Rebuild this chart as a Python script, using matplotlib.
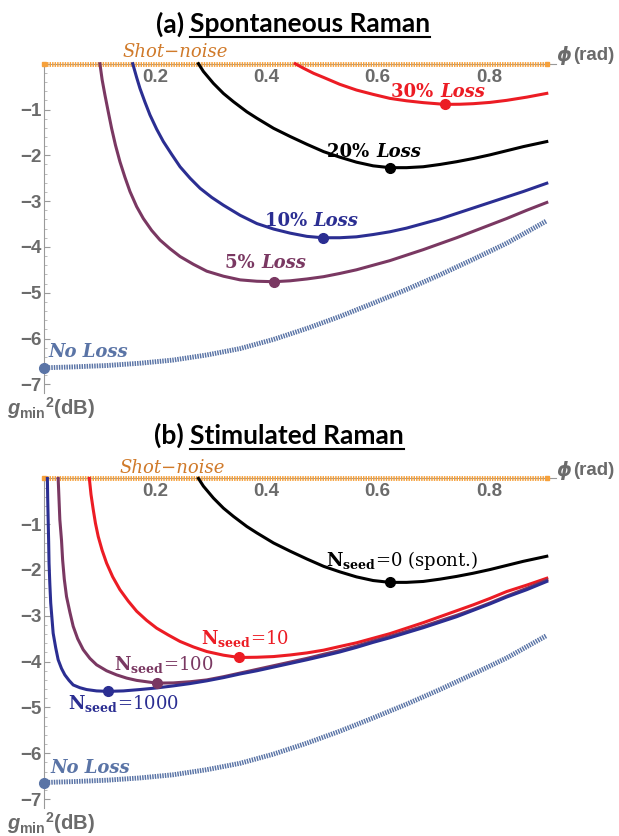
import matplotlib
matplotlib.use("Agg")
import matplotlib.pyplot as plt

plt.rcParams["mathtext.fontset"] = "custom"
plt.rcParams["mathtext.it"] = "Liberation Sans:italic:bold"
plt.rcParams["mathtext.rm"] = "Liberation Sans:bold"
plt.rcParams["mathtext.bf"] = "Liberation Sans:bold"

# ---- data (phi in rad, squeezing in dB) ----
phi_30 = [0.452, 0.467, 0.485, 0.503, 0.532, 0.562, 0.592, 0.622, 0.652, 0.682, 0.721,
          0.748, 0.772, 0.802, 0.832, 0.868, 0.904]
g_30 = [0.0, -0.10, -0.21, -0.30, -0.45, -0.575, -0.67, -0.757, -0.81, -0.85, -0.888,
        -0.885, -0.873, -0.845, -0.80, -0.73, -0.648]

phi_20 = [0.278, 0.287, 0.305, 0.323, 0.341, 0.365, 0.383, 0.413, 0.443, 0.473, 0.503, 0.532,
          0.562, 0.592, 0.622, 0.652, 0.682, 0.712, 0.742, 0.772, 0.802, 0.832, 0.862, 0.904]
g_20 = [0.0, -0.17, -0.43, -0.65, -0.83, -1.05, -1.19, -1.41, -1.59, -1.76, -1.92, -2.04,
        -2.15, -2.23, -2.27, -2.27, -2.25, -2.20, -2.14, -2.07, -1.99, -1.90, -1.81, -1.70]

phi_10 = [0.160, 0.167, 0.173, 0.182, 0.191, 0.203, 0.215, 0.230, 0.245, 0.263, 0.281, 0.302,
          0.323, 0.353, 0.383, 0.413, 0.443, 0.473, 0.501, 0.532, 0.562, 0.592, 0.622, 0.652,
          0.682, 0.712, 0.742, 0.772, 0.802, 0.832, 0.862, 0.904]
g_10 = [0.0, -0.30, -0.54, -0.84, -1.12, -1.43, -1.70, -1.98, -2.25, -2.50, -2.72, -2.92,
        -3.09, -3.31, -3.49, -3.61, -3.70, -3.77, -3.80, -3.80, -3.78, -3.73, -3.67, -3.59,
        -3.49, -3.39, -3.27, -3.15, -3.03, -2.91, -2.79, -2.61]

phi_5 = [0.101, 0.105, 0.110, 0.116, 0.122, 0.129, 0.137, 0.146, 0.155, 0.167, 0.179, 0.194,
         0.209, 0.227, 0.245, 0.269, 0.293, 0.323, 0.353, 0.383, 0.414, 0.443, 0.473, 0.503,
         0.532, 0.562, 0.592, 0.622, 0.652, 0.682, 0.712, 0.742, 0.772, 0.802, 0.832, 0.868,
         0.904]
g_5 = [0.0, -0.35, -0.68, -1.05, -1.41, -1.78, -2.14, -2.48, -2.79, -3.12, -3.38, -3.64,
       -3.85, -4.04, -4.21, -4.38, -4.53, -4.64, -4.72, -4.75, -4.76, -4.74, -4.70, -4.65,
       -4.58, -4.50, -4.40, -4.30, -4.18, -4.06, -3.93, -3.80, -3.66, -3.52, -3.38, -3.20,
       -3.03]

phi_noloss = [0.0, 0.053, 0.113, 0.173, 0.233, 0.293, 0.353, 0.413, 0.473, 0.532, 0.592,
              0.652, 0.712, 0.772, 0.832, 0.904]
g_noloss = [-6.64, -6.62, -6.59, -6.54, -6.47, -6.36, -6.22, -6.02, -5.78, -5.52, -5.23,
            -4.93, -4.61, -4.27, -3.92, -3.43]

phi_n10 = [0.082, 0.085, 0.089, 0.093, 0.098, 0.105, 0.113, 0.124, 0.137, 0.152, 0.167, 0.185,
           0.203, 0.224, 0.245, 0.269, 0.293, 0.323, 0.351, 0.383, 0.413, 0.443, 0.473, 0.503,
           0.532, 0.562, 0.592, 0.622, 0.652, 0.682, 0.712, 0.742, 0.772, 0.802, 0.832, 0.868,
           0.904]
g_n10 = [0.0, -0.35, -0.68, -0.98, -1.27, -1.57, -1.85, -2.15, -2.43, -2.68, -2.90, -3.10,
         -3.27, -3.42, -3.56, -3.68, -3.78, -3.86, -3.91, -3.905, -3.89, -3.855, -3.81, -3.75,
         -3.67, -3.59, -3.49, -3.39, -3.27, -3.15, -3.02, -2.89, -2.76, -2.62, -2.47, -2.33,
         -2.18]

phi_n100 = [0.026, 0.0275, 0.029, 0.032, 0.034, 0.037, 0.041, 0.047, 0.053, 0.061, 0.071,
            0.083, 0.095, 0.113, 0.131, 0.149, 0.167, 0.203, 0.233, 0.263, 0.293, 0.323, 0.353,
            0.383, 0.413, 0.443, 0.473, 0.503, 0.532, 0.562, 0.592, 0.622, 0.652, 0.682, 0.712,
            0.742, 0.772, 0.802, 0.832, 0.868, 0.904]
g_n100 = [0.0, -0.45, -0.90, -1.35, -1.78, -2.20, -2.58, -2.92, -3.23, -3.50, -3.74,
          -3.93, -4.07, -4.20, -4.29, -4.36, -4.41, -4.47, -4.465, -4.44, -4.40, -4.33, -4.25,
          -4.17, -4.09, -4.01, -3.93, -3.84, -3.76, -3.66, -3.55, -3.45, -3.34, -3.23, -3.11,
          -2.99, -2.86, -2.72, -2.57, -2.40, -2.22]

phi_n1000 = [0.0066, 0.0072, 0.008, 0.0089, 0.0096, 0.011, 0.0126, 0.015, 0.017, 0.0216, 0.026,
             0.032, 0.038, 0.0455, 0.053, 0.065, 0.077, 0.095, 0.115, 0.143, 0.173, 0.203,
             0.233, 0.263, 0.293, 0.323, 0.353, 0.383, 0.413, 0.443, 0.473, 0.503, 0.532,
             0.562, 0.592, 0.622, 0.652, 0.682, 0.712, 0.742, 0.772, 0.802, 0.832, 0.868, 0.904]
g_n1000 = [0.0, -0.45, -0.90, -1.38, -1.85, -2.30, -2.72, -3.08, -3.38, -3.70, -3.96,
           -4.15, -4.29, -4.41, -4.51, -4.57, -4.61, -4.64, -4.65, -4.64, -4.61, -4.575,
           -4.53, -4.48, -4.42, -4.35, -4.27, -4.20, -4.12, -4.04, -3.96, -3.875, -3.79,
           -3.69, -3.58, -3.48, -3.37, -3.26, -3.14, -3.02, -2.88, -2.74, -2.59, -2.43, -2.25]

# minima (dots)
min_top = {"30": (0.721, -0.888), "20": (0.622, -2.27), "10": (0.501, -3.80),
           "5": (0.414, -4.76), "no": (0.0, -6.64)}
min_bot = {"0": (0.622, -2.27), "10": (0.351, -3.91), "100": (0.203, -4.47),
           "1000": (0.115, -4.65), "no": (0.0, -6.64)}

x_ticks = [0.2, 0.4, 0.6, 0.8]
y_ticks = [-1, -2, -3, -4, -5, -6, -7]

RED = "#ec1c24"
BLACK = "#000000"
BLUE = "#2b2e92"
PURPLE = "#7a3862"
SLATE = "#5a74a6"
ORANGE = "#f6a13c"
ORANGE_TXT = "#d07a2a"
GRAY = "#6b6b6b"

W, H = 619, 836
fig = plt.figure(figsize=(W / 100, H / 100), dpi=100)

X0PX, XSCALE = 43.7, 556.5
YSCALE = 45.8
XLIM = (-0.02, 1.0)
YLIM = (-7.3, 0.6)


def make_axes(y0px):
    left = (X0PX + XLIM[0] * XSCALE) / W
    width = (XLIM[1] - XLIM[0]) * XSCALE / W
    top = y0px - YLIM[1] * YSCALE
    bottom = y0px - YLIM[0] * YSCALE
    ax = fig.add_axes([left, 1 - bottom / H, width, (bottom - top) / H])
    ax.set_xlim(*XLIM)
    ax.set_ylim(*YLIM)
    ax.patch.set_alpha(0)
    for s in ("top", "right"):
        ax.spines[s].set_visible(False)
    ax.spines["left"].set_position(("data", 0))
    ax.spines["left"].set_bounds(-7.2, 0)
    ax.spines["bottom"].set_position(("data", 0))
    ax.spines["bottom"].set_bounds(0, 0.92)
    for s in ("left", "bottom"):
        ax.spines[s].set_color("#9a9a9a")
        ax.spines[s].set_linewidth(0.8)
    ax.set_xticks(x_ticks)
    ax.set_xticklabels([f"{v:.1f}" for v in x_ticks])
    ax.set_yticks(y_ticks)
    ax.set_yticklabels([f"\u2212{abs(v)}" for v in y_ticks])
    ax.set_yticks([-0.2 * i for i in range(1, 36) if i % 5], minor=True)
    ax.tick_params(axis="x", length=0, pad=3.5)
    ax.tick_params(axis="y", which="major", direction="in", length=4, color="#9a9a9a", pad=1.5)
    ax.tick_params(axis="y", which="minor", direction="in", length=2, color="#b0b0b0")
    for lab in ax.get_xticklabels() + ax.get_yticklabels():
        lab.set_fontfamily("Liberation Sans")
        lab.set_fontweight("bold")
        lab.set_fontsize(13.5)
        lab.set_color(GRAY)

    # shot-noise level
    ax.plot([0, 0.905], [0, 0], color=ORANGE, lw=3.5, ls=(0, (0.3, 0.22)),
            solid_capstyle="butt", zorder=3)
    ax.plot([0, 0.905], [0, 0], ls="none", marker="s", ms=3.5, color=ORANGE, zorder=3)

    # no loss
    ax.plot(phi_noloss, g_noloss, color=SLATE, lw=3.5, ls=(0, (0.3, 0.22)), zorder=3)

    ax.text(0.948, 0.17, "\u03d5", fontsize=13.5, fontweight="bold", style="italic",
            family="DejaVu Sans", color=GRAY, va="center", ha="right")
    ax.text(0.952, 0.17, "(rad)", fontsize=13.5, fontweight="bold",
            family="Liberation Sans", color=GRAY, va="center", ha="left")
    ax.text(-0.066, -7.67, r"$g_{\mathrm{min}}{}^{\mathrm{2}}$(dB)", fontsize=14.5,
            fontweight="bold", family="Liberation Sans", color=GRAY, va="baseline",
            ha="left", math_fontfamily="custom")
    return ax


def dot(ax, p, color):
    ax.plot([p[0]], [p[1]], "o", ms=7, color=color, zorder=6, clip_on=False)


def loss_label(ax, x, y, num, color):
    ax.text(x, y, num + " ", ha="right", va="baseline", fontsize=13, fontweight="bold",
            family="DejaVu Serif", color=color)
    ax.text(x, y, "Loss", ha="left", va="baseline", fontsize=13, fontweight="bold",
            style="italic", family="DejaVu Serif", color=color)


def title(x_split_px, y_px, prefix, body):
    fx, fy = x_split_px / W, 1 - y_px / H
    fig.text(fx - 6 / W, fy, prefix, ha="right", va="baseline", fontsize=19,
             fontweight="bold", family="Lato")
    t = fig.text(fx, fy, body, ha="left", va="baseline", fontsize=19,
                 fontweight="bold", family="Lato")
    fig.canvas.draw()
    bb = t.get_window_extent(fig.canvas.get_renderer())
    uy = fy - 4.5 / H
    fig.add_artist(plt.Line2D([bb.x0 / W, bb.x1 / W], [uy, uy], color="black", lw=1.5,
                              transform=fig.transFigure))


# ---------------- (a) spontaneous ----------------
ax1 = make_axes(63.7)
ax1.plot(phi_5, g_5, color=PURPLE, lw=2.2, zorder=4)
ax1.plot(phi_10, g_10, color=BLUE, lw=2.2, zorder=4)
ax1.plot(phi_20, g_20, color=BLACK, lw=2.2, zorder=4)
ax1.plot(phi_30, g_30, color=RED, lw=2.2, zorder=4)
dot(ax1, min_top["30"], RED)
dot(ax1, min_top["20"], BLACK)
dot(ax1, min_top["10"], BLUE)
dot(ax1, min_top["5"], PURPLE)
dot(ax1, min_top["no"], SLATE)
loss_label(ax1, 0.712, -0.72, "30%", RED)
loss_label(ax1, 0.597, -2.03, "20%", BLACK)
loss_label(ax1, 0.485, -3.54, "10%", BLUE)
loss_label(ax1, 0.391, -4.47, "5%", PURPLE)
ax1.text(0.008, -6.40, "No Loss", fontsize=13, fontweight="bold", style="italic",
         family="DejaVu Serif", color=SLATE, va="baseline")
ax1.text(0.141, 0.15, "Shot\u2212noise", fontsize=13, style="italic",
         family="DejaVu Serif", color=ORANGE_TXT, va="baseline")

# ---------------- (b) stimulated ----------------
ax2 = make_axes(478.4)
ax2.plot(phi_20, g_20, color=BLACK, lw=2.2, zorder=4)
ax2.plot(phi_n10, g_n10, color=RED, lw=2.2, zorder=4)
ax2.plot(phi_n100, g_n100, color=PURPLE, lw=2.2, zorder=4)
ax2.plot(phi_n1000, g_n1000, color=BLUE, lw=2.2, zorder=4)
dot(ax2, min_bot["0"], BLACK)
dot(ax2, min_bot["10"], RED)
dot(ax2, min_bot["100"], PURPLE)
dot(ax2, min_bot["1000"], BLUE)
dot(ax2, min_bot["no"], SLATE)
seed_kw = dict(fontsize=13, family="DejaVu Serif", va="baseline", math_fontfamily="dejavuserif")
ax2.text(0.507, -1.92, r"$\mathbf{N_{seed}}$=0 (spont.)", color=BLACK, **seed_kw)
ax2.text(0.282, -3.61, r"$\mathbf{N_{seed}}$=10", color=RED, **seed_kw)
ax2.text(0.126, -4.19, r"$\mathbf{N_{seed}}$=100", color=PURPLE, **seed_kw)
ax2.text(0.044, -5.04, r"$\mathbf{N_{seed}}$=1000", color=BLUE, **seed_kw)
ax2.text(0.013, -6.44, "No Loss", fontsize=13, fontweight="bold", style="italic",
         family="DejaVu Serif", color=SLATE, va="baseline")
ax2.text(0.137, 0.125, "Shot\u2212noise", fontsize=13, style="italic",
         family="DejaVu Serif", color=ORANGE_TXT, va="baseline")

title(190, 32.5, "(a)", "Spontaneous Raman")
title(190, 444.0, "(b)", "Stimulated Raman")

fig.savefig("out.png", dpi=100)
